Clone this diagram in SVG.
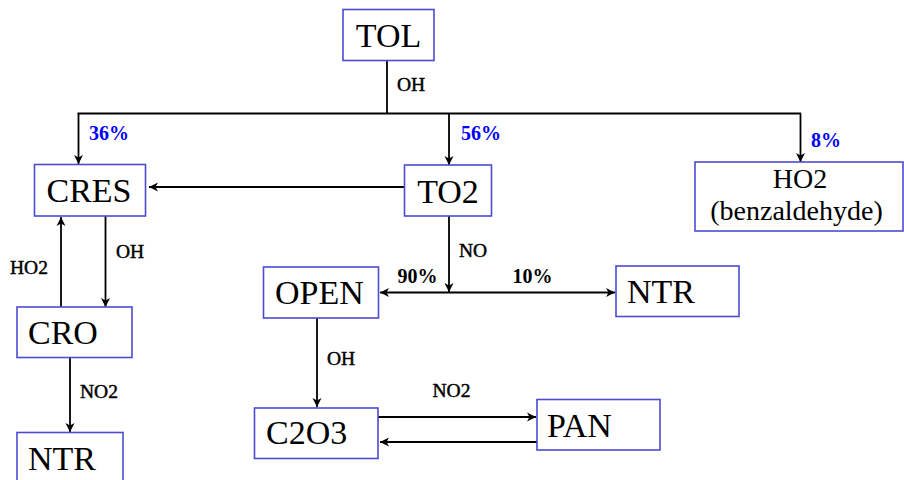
<svg xmlns="http://www.w3.org/2000/svg" width="904" height="480" viewBox="0 0 904 480">
<style>
.box{fill:#fff;stroke:#4b4bd2;stroke-width:1.6}
.t{font-family:"Liberation Serif",serif;font-size:34px;fill:#000}
.t2{font-family:"Liberation Serif",serif;font-size:28px;fill:#000}
.lbl{font-family:"Liberation Serif",serif;font-size:19.5px;fill:#000;stroke:#000;stroke-width:0.45}
.pct{font-family:"Liberation Serif",serif;font-size:20px;font-weight:bold;fill:#0000ff}
.pk{font-family:"Liberation Serif",serif;font-size:20px;font-weight:bold;fill:#000}
.ln{stroke:#000;stroke-width:1.8;fill:none}
.ar{stroke:#000;stroke-width:1.8;fill:none;marker-end:url(#ah)}
</style>
<defs>
<marker id="ah" markerUnits="userSpaceOnUse" viewBox="-10 -5 11 10" refX="0" refY="0" markerWidth="11" markerHeight="10" orient="auto">
<path d="M-9,-4.5 L0,0 L-9,4.5 L-6.5,0 z" fill="#000"/>
</marker>
</defs>
<rect width="904" height="480" fill="#fff"/>
<g id="connectors">
<line class="ln" x1="387" y1="60" x2="387" y2="113.5"/>
<line class="ln" x1="77.5" y1="113.5" x2="801" y2="113.5"/>
<line class="ar" x1="78.5" y1="113.5" x2="78.5" y2="164"/>
<line class="ar" x1="449" y1="113.5" x2="449" y2="165"/>
<line class="ar" x1="800.5" y1="113.5" x2="800.5" y2="162"/>
<line class="ar" x1="404" y1="187" x2="149" y2="187"/>
<line class="ar" x1="105.5" y1="216" x2="105.5" y2="307"/>
<line class="ar" x1="61" y1="307" x2="61" y2="217"/>
<line class="ar" x1="70" y1="357" x2="70" y2="432"/>
<line class="ar" x1="449" y1="216" x2="449" y2="292"/>
<line class="ar" x1="449" y1="292.5" x2="380" y2="292.5"/>
<line class="ar" x1="449" y1="292.5" x2="615" y2="292.5"/>
<line class="ar" x1="317" y1="318" x2="317" y2="407"/>
<line class="ar" x1="378" y1="417" x2="536" y2="417"/>
<line class="ar" x1="537" y1="442" x2="380" y2="442"/>
<text class="lbl" x="397" y="91">OH</text>
<text class="pct" x="89" y="140">36%</text>
<text class="pct" x="461" y="140">56%</text>
<text class="pct" x="811" y="147">8%</text>
<text class="lbl" x="116" y="258">OH</text>
<text class="lbl" x="10" y="274">HO2</text>
<text class="lbl" x="459" y="257">NO</text>
<text class="pk" x="397.5" y="283">90%</text>
<text class="pk" x="512.5" y="283">10%</text>
<text class="lbl" x="80" y="398">NO2</text>
<text class="lbl" x="327" y="365">OH</text>
<text class="lbl" x="432.5" y="397">NO2</text>
</g>
<g id="TOL"><rect class="box" x="343" y="9.5" width="91" height="51"/><text class="t" x="388.5" y="47" text-anchor="middle">TOL</text></g>
<g id="CRES"><rect class="box" x="34.5" y="164.5" width="111" height="51.5"/><text class="t" x="89" y="202" text-anchor="middle">CRES</text></g>
<g id="TO2"><rect class="box" x="404.5" y="165" width="87" height="51"/><text class="t" x="448" y="203" text-anchor="middle">TO2</text></g>
<g id="HO2"><rect class="box" x="695" y="162" width="208" height="69"/><text class="t2" x="800" y="188" text-anchor="middle">HO2</text><text class="t2" x="796.5" y="220" text-anchor="middle">(benzaldehyde)</text></g>
<g id="CRO"><rect class="box" x="17" y="307" width="115" height="50.5"/><text class="t" x="28" y="344">CRO</text></g>
<g id="NTR1"><rect class="box" x="17" y="432.5" width="106" height="52"/><text class="t" x="28" y="470">NTR</text></g>
<g id="OPEN"><rect class="box" x="263.5" y="267" width="115" height="51"/><text class="t" x="275" y="304">OPEN</text></g>
<g id="NTR2"><rect class="box" x="616" y="266" width="123" height="50.5"/><text class="t" x="627" y="303">NTR</text></g>
<g id="C2O3"><rect class="box" x="254.5" y="408" width="123.5" height="50.5"/><text class="t" x="266" y="444">C2O3</text></g>
<g id="PAN"><rect class="box" x="537" y="399.5" width="123" height="50.5"/><text class="t" x="547" y="437">PAN</text></g>
</svg>
